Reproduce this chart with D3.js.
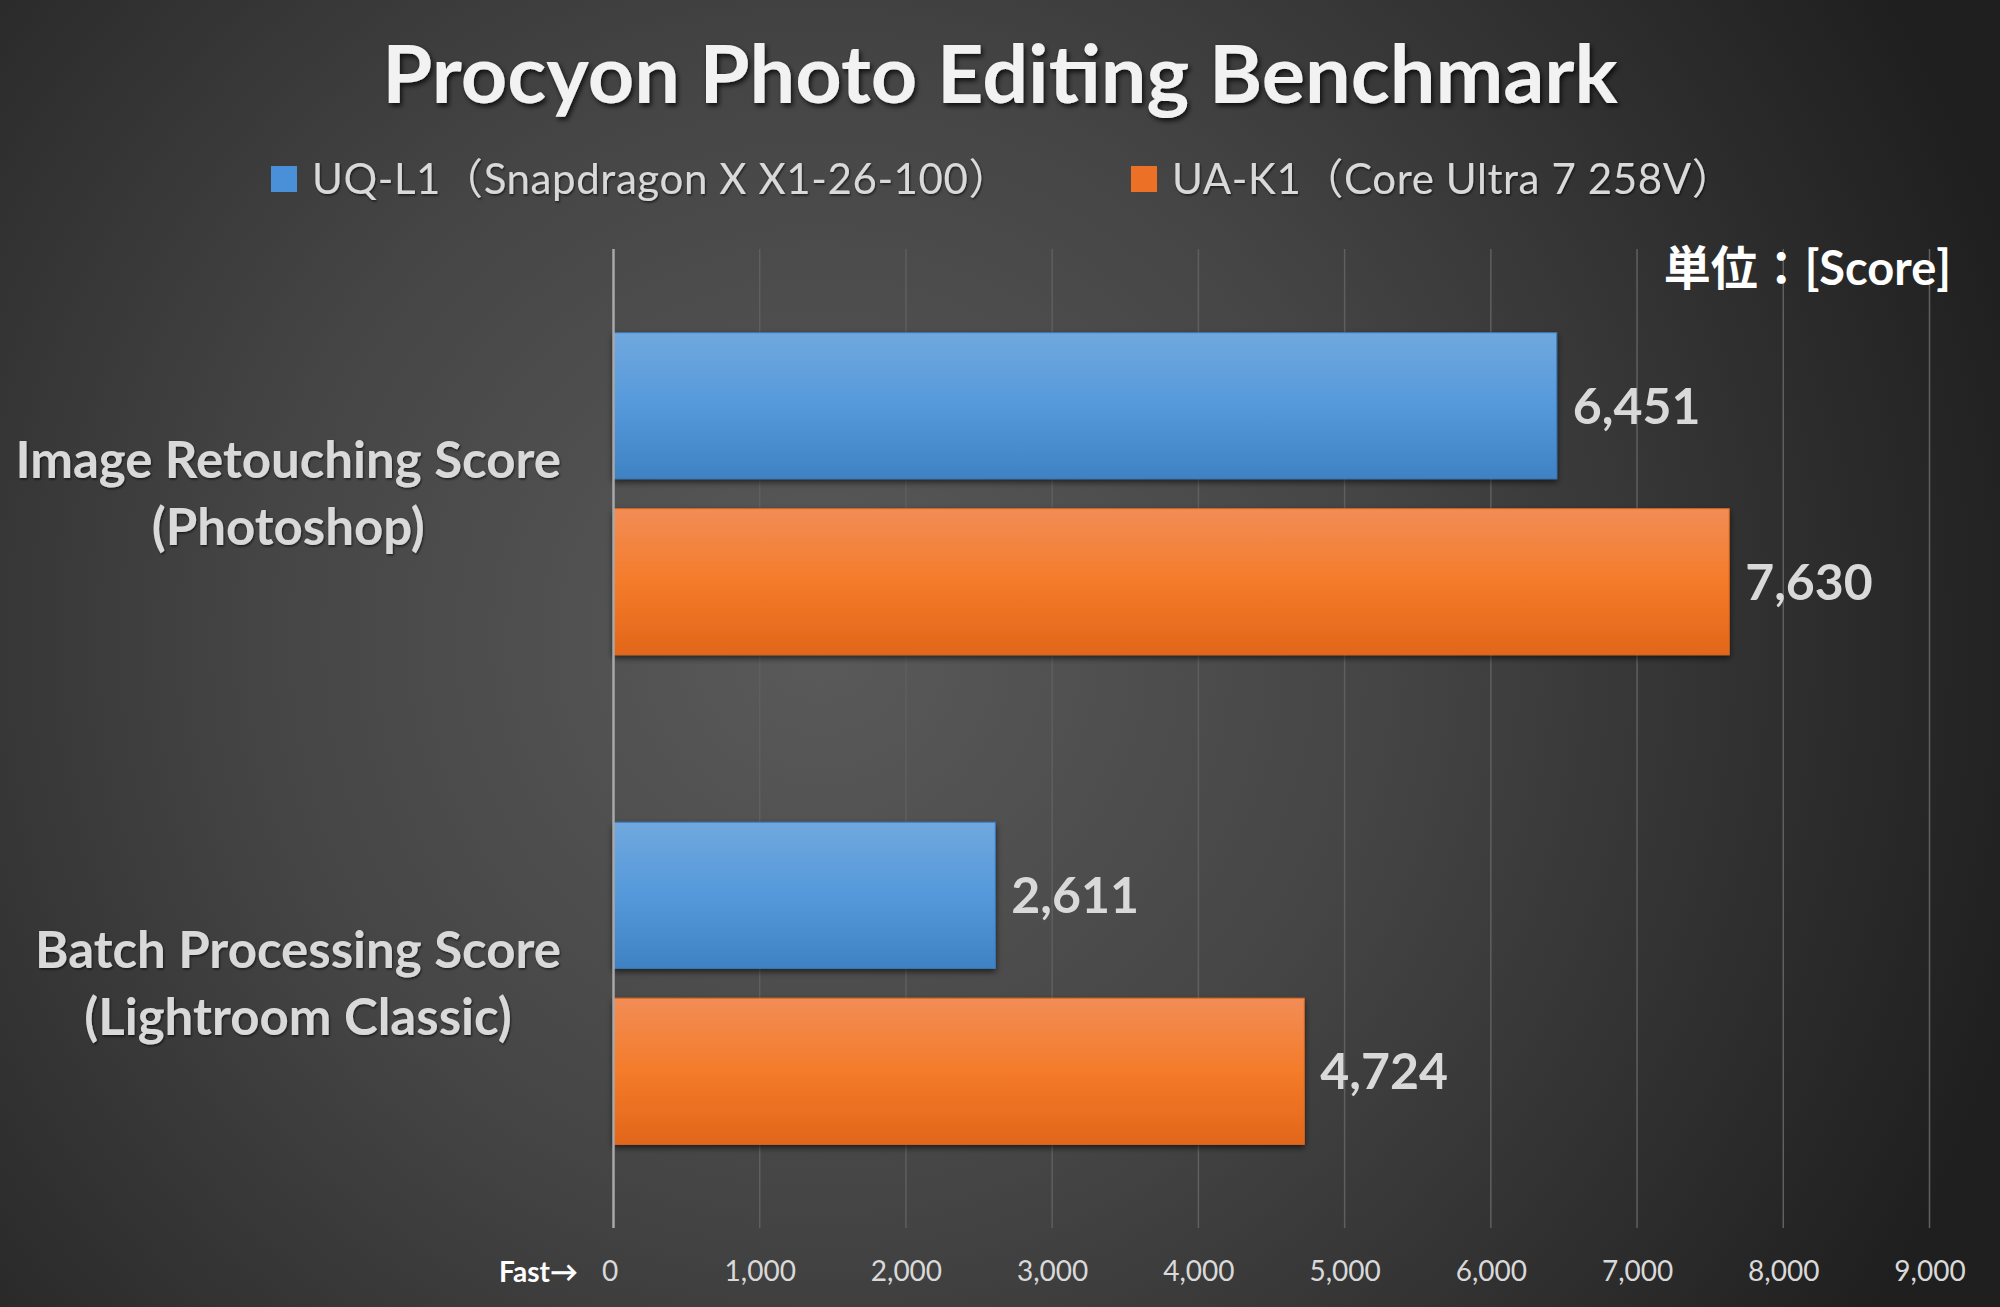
<!DOCTYPE html>
<html>
<head>
<meta charset="utf-8">
<script src="https://cdn.jsdelivr.net/npm/d3@7"></script>
<style>
  html, body { margin: 0; padding: 0; background: #333; }
  svg { display: block; }
</style>
</head>
<body>
<svg id="chart" width="2000" height="1307"></svg>
<script>
// ---- data ----
const categories = ["Image Retouching Score\n(Photoshop)", "Batch Processing Score\n(Lightroom Classic)"];
const seriesNames = ["UQ-L1（Snapdragon X X1-26-100）", "UA-K1（Core Ultra 7 258V）"];
const uqL1Values = [6451, 2611];
const uaK1Values = [7630, 4724];
const tickValues = [0, 1000, 2000, 3000, 4000, 5000, 6000, 7000, 8000, 9000];
const titleText = "Procyon Photo Editing Benchmark";
const unitText = "単位：[Score]";

const seriesValues = [uqL1Values, uaK1Values];
const FONT = "Lato, 'Noto Sans CJK JP', sans-serif";

const W = 2000, H = 1307;
const svg = d3.select("#chart");
const defs = svg.append("defs");

// background radial gradient
const bg = defs.append("radialGradient").attr("id", "bg")
  .attr("gradientUnits", "userSpaceOnUse")
  .attr("cx", 820).attr("cy", 640).attr("r", 1250);
bg.append("stop").attr("offset", "0").attr("stop-color", "#5a5a5a");
bg.append("stop").attr("offset", "0.45").attr("stop-color", "#454545");
bg.append("stop").attr("offset", "1").attr("stop-color", "#1f1f1f");
svg.append("rect").attr("width", W).attr("height", H).attr("fill", "url(#bg)");

// bar gradients
const grads = [
  ["gBlue", "#70a8de", "#5599db", "#3f82c4"],
  ["gOrange", "#f28d56", "#f47b2a", "#e2661a"]
];
grads.forEach(([id, a, b, c]) => {
  const g = defs.append("linearGradient").attr("id", id).attr("x1", 0).attr("y1", 0).attr("x2", 0).attr("y2", 1);
  g.append("stop").attr("offset", 0).attr("stop-color", a);
  g.append("stop").attr("offset", 0.5).attr("stop-color", b);
  g.append("stop").attr("offset", 1).attr("stop-color", c);
});
const legendFill = ["#4a90d9", "#ec7026"];

const sh = defs.append("filter").attr("id", "barShadow").attr("x", "-5%").attr("y", "-10%").attr("width", "110%").attr("height", "130%");
sh.append("feDropShadow").attr("dx", 0).attr("dy", 3).attr("stdDeviation", 3).attr("flood-color", "#000").attr("flood-opacity", 0.6);
const tsh = defs.append("filter").attr("id", "textShadow").attr("x", "-5%").attr("y", "-20%").attr("width", "110%").attr("height", "150%");
tsh.append("feDropShadow").attr("dx", 2).attr("dy", 3).attr("stdDeviation", 2.5).attr("flood-color", "#000").attr("flood-opacity", 0.75);
const tsh2 = defs.append("filter").attr("id", "textShadow2").attr("x", "-5%").attr("y", "-20%").attr("width", "110%").attr("height", "150%");
tsh2.append("feDropShadow").attr("dx", 1).attr("dy", 1.5).attr("stdDeviation", 1.2).attr("flood-color", "#000").attr("flood-opacity", 0.6);

// scales
const x = d3.scaleLinear().domain([0, 9000]).range([613.5, 1929.5]);
const y = d3.scaleBand().domain(categories).range([249, 1228]).paddingInner(0.342).paddingOuter(0.171);
const ySub = d3.scaleBand().domain(d3.range(seriesNames.length)).range([0, y.bandwidth()]).paddingInner(0.17);

// gridlines
svg.append("g").selectAll("line").data(tickValues.filter(t => t > 0)).join("line")
  .attr("x1", d => x(d)).attr("x2", d => x(d))
  .attr("y1", 249).attr("y2", 1228)
  .attr("stroke", "#5f5f5f").attr("stroke-width", 1.5);

// x tick labels via axis
const xAxis = d3.axisBottom(x).tickValues(tickValues).tickFormat(d3.format(",")).tickSize(0).tickPadding(0);
const gx = svg.append("g").attr("transform", "translate(0,1271)").call(xAxis);
gx.select(".domain").remove();
gx.selectAll("text").attr("font-family", FONT).attr("font-size", 28).attr("fill", "#d9d9d9").attr("dy", "0.35em");
gx.selectAll(".tick").filter(d => d === 0).select("text").attr("dx", -4);

// bars
const groups = svg.append("g").selectAll("g").data(categories).join("g")
  .attr("transform", d => `translate(0,${y(d)})`);
groups.each(function(cat, ci) {
  const g = d3.select(this);
  seriesValues.forEach((vals, si) => {
    g.append("rect")
      .attr("x", x(0)).attr("y", ySub(si))
      .attr("width", x(vals[ci]) - x(0)).attr("height", ySub.bandwidth())
      .attr("fill", `url(#${grads[si][0]})`)
      .attr("stroke", si === 0 ? "#3a7cc0" : "#e06a1e").attr("stroke-width", 1)
      .attr("filter", "url(#barShadow)");
    g.append("text")
      .attr("x", x(vals[ci]) + 16).attr("y", ySub(si) + ySub.bandwidth() / 2)
      .attr("dy", "0.36em")
      .attr("font-family", FONT).attr("font-weight", 700).attr("font-size", 50)
      .attr("fill", "#d9d9d9")
      .text(d3.format(",")(vals[ci]));
  });
});

// zero axis line
svg.append("line").attr("x1", x(0)).attr("x2", x(0)).attr("y1", 249).attr("y2", 1228)
  .attr("stroke", "#a8a8a8").attr("stroke-width", 2.5);

// category labels
categories.forEach(cat => {
  const lines = cat.split("\n");
  const cy = y(cat) + y.bandwidth() / 2;
  const t1 = svg.append("text")
    .attr("x", 561).attr("y", cy - 34).attr("dy", "0.36em")
    .attr("text-anchor", "end")
    .attr("font-family", FONT).attr("font-weight", 700).attr("font-size", 51)
    .attr("fill", "#d9d9d9").attr("filter", "url(#textShadow2)")
    .text(lines[0]);
  const w = t1.node().getComputedTextLength();
  svg.append("text")
    .attr("x", 561 - w / 2).attr("y", cy + 33).attr("dy", "0.36em")
    .attr("text-anchor", "middle")
    .attr("font-family", FONT).attr("font-weight", 700).attr("font-size", 51)
    .attr("fill", "#d9d9d9").attr("filter", "url(#textShadow2)")
    .text(lines[1]);
});

// title
svg.append("text").attr("x", 1000).attr("y", 74).attr("dy", "0.36em")
  .attr("text-anchor", "middle")
  .attr("font-family", FONT).attr("font-weight", 700).attr("font-size", 81)
  .attr("fill", "#f2f2f2").attr("filter", "url(#textShadow)")
  .text(titleText);

// legend
const legendX = [271, 1131];
const lg = svg.append("g");
seriesNames.forEach((name, i) => {
  lg.append("rect").attr("x", legendX[i]).attr("y", 166).attr("width", 26).attr("height", 26)
    .attr("fill", legendFill[i]);
  lg.append("text").attr("x", legendX[i] + 41).attr("y", 179).attr("dy", "0.36em")
    .attr("font-family", FONT).attr("font-size", 42).attr("letter-spacing", 0.6)
    .attr("fill", "#d9d9d9").attr("filter", "url(#textShadow2)")
    .text(name);
});

// unit label
svg.append("text").attr("x", 1951).attr("y", 268).attr("dy", "0.36em")
  .attr("text-anchor", "end")
  .attr("font-family", FONT).attr("font-weight", 700).attr("font-size", 47)
  .attr("fill", "#ffffff")
  .text(unitText);

// Fast arrow
svg.append("text").attr("x", 578).attr("y", 1272).attr("dy", "0.36em")
  .attr("text-anchor", "end")
  .attr("font-family", FONT).attr("font-weight", 700).attr("font-size", 28)
  .attr("fill", "#ffffff")
  .text("Fast→");
</script>
</body>
</html>
